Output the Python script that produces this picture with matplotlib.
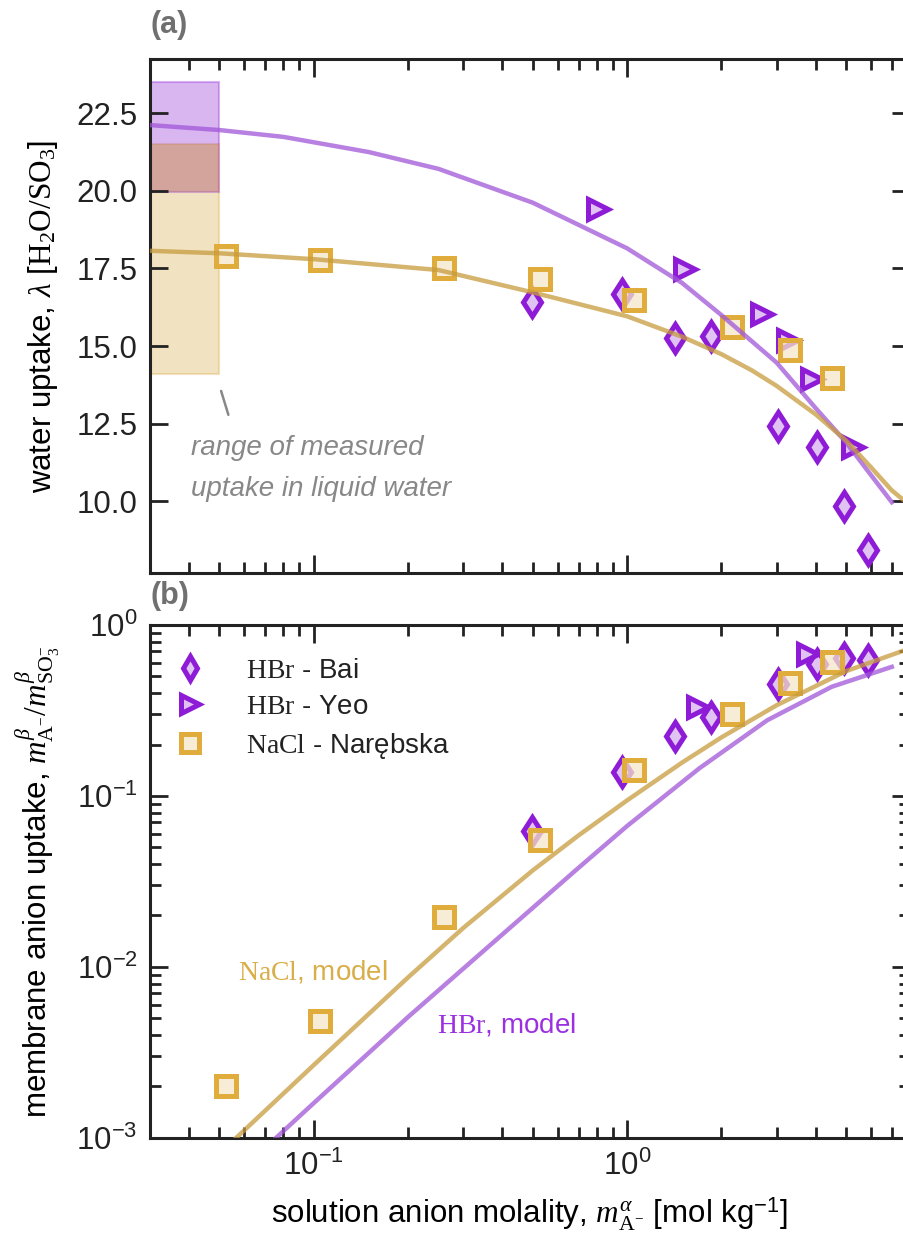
import numpy as np
import matplotlib
matplotlib.use("Agg")
import matplotlib.pyplot as plt
from matplotlib.patches import Rectangle
from matplotlib.ticker import LogLocator, FuncFormatter, NullFormatter, FixedLocator

plt.rcParams.update({
    'font.family': ['Liberation Sans', 'DejaVu Sans'],
    'mathtext.fontset': 'custom',
    'mathtext.rm': 'Liberation Serif',
    'mathtext.it': 'Liberation Serif:italic',
    'mathtext.bf': 'Liberation Serif:bold',
    'mathtext.sf': 'Liberation Sans',
})

# ---- (a) water uptake data ----
bai_m = [0.497, 0.962, 1.42, 1.85, 3.04, 4.04, 4.92, 5.87]
bai_lam = [16.42, 16.69, 15.27, 15.32, 12.41, 11.75, 9.86, 8.44]
yeo_m = [0.805, 1.535, 2.70, 3.27, 3.88, 5.26]
yeo_lam = [19.41, 17.47, 16.04, 15.21, 13.95, 11.75]
nar_m = [0.0523, 0.1045, 0.261, 0.526, 1.05, 2.16, 3.31, 4.51]
nar_lam = [17.90, 17.77, 17.51, 17.15, 16.48, 15.60, 14.86, 13.98]

hbr_model_m = [0.03, 0.05, 0.08, 0.15, 0.25, 0.5, 1.0, 1.5, 2.0, 3.0, 4.0, 5.0, 6.0, 7.0]
hbr_model_lam = [22.12, 21.96, 21.74, 21.25, 20.71, 19.62, 18.15, 17.03, 16.0, 14.47, 13.0, 11.9, 10.85, 9.97]
nacl_model_m = [0.03, 0.05, 0.1, 0.25, 0.5, 1.0, 1.5, 2.0, 2.5, 3.0, 4.0, 5.0, 6.0, 7.0, 8.0]
nacl_model_lam = [18.07, 17.99, 17.8, 17.45, 16.73, 15.96, 15.3, 14.74, 14.22, 13.72, 12.8, 11.96, 11.1, 10.35, 9.87]

# measured uptake in liquid water (ranges)
range_m = [0.03, 0.05]
range_hbr = [19.95, 23.5]
range_nacl = [14.1, 21.5]

# ---- (b) anion uptake data ----
bai_up = [0.0625, 0.138, 0.223, 0.290, 0.454, 0.594, 0.637, 0.622]
yeo_m2 = [1.68, 3.78]
yeo_up = [0.333, 0.68]
nar_up = [2.0e-3, 4.8e-3, 0.0196, 0.0555, 0.141, 0.303, 0.46, 0.61]

nacl_up_m = [0.0565, 0.1, 0.2, 0.3, 0.5, 0.7, 1.0, 1.5, 2.0, 3.0, 5.0, 8.0]
nacl_up = [1.0e-3, 2.67e-3, 8.69e-3, 0.0169, 0.0367, 0.0588, 0.0942, 0.157, 0.220, 0.339, 0.537, 0.730]
hbr_up_m = [0.0757, 0.1, 0.2, 0.4, 0.7, 1.0, 1.7, 2.8, 4.5, 7.0]
hbr_up = [1.0e-3, 1.6e-3, 5.1e-3, 0.0155, 0.038, 0.0667, 0.145, 0.277, 0.435, 0.569]

purple = '#8e1cd6'
purple_fill = (0.86, 0.72, 0.95, 0.85)
gold = '#e0ad3c'
gold_fill = (0.96, 0.90, 0.78, 0.75)
purple_line = '#a056d8'
gold_line = '#c79b3e'
spine_c = '#222222'
ms = 14.5
mew = 3.6
fs = 22.5

fig = plt.figure(figsize=(9.04, 12.43), dpi=100)
ax1 = fig.add_axes([0.1659, 0.5393, 0.8407, 0.4130])
ax2 = fig.add_axes([0.1659, 0.0845, 0.8407, 0.4127])

for ax in (ax1, ax2):
    ax.set_xscale('log')
    ax.set_xlim(0.03, 8)
    for s in ax.spines.values():
        s.set_linewidth(2.2)
        s.set_color(spine_c)
    ax.tick_params(which='both', direction='in', top=True, right=True,
                   width=2, color=spine_c, labelsize=fs, labelcolor='#222222', pad=9)
    ax.tick_params(which='major', length=13)
    ax.tick_params(which='minor', length=8)
    ax.xaxis.set_major_formatter(FuncFormatter(
        lambda v, p: r'$\mathsf{10^{%d}}$' % round(np.log10(v))))
    ax.xaxis.set_minor_formatter(NullFormatter())

# ---- panel (a) ----
ax1.add_patch(Rectangle((range_m[0], range_nacl[0]), range_m[1] - range_m[0],
                        range_nacl[1] - range_nacl[0], facecolor='#d6a840',
                        edgecolor='#d6a840', alpha=0.32, lw=1.5, zorder=1))
ax1.add_patch(Rectangle((range_m[0], range_hbr[0]), range_m[1] - range_m[0],
                        range_hbr[1] - range_hbr[0], facecolor=purple,
                        edgecolor=purple, alpha=0.32, lw=1.5, zorder=1))
ax1.add_patch(Rectangle((range_m[0], range_hbr[0]), range_m[1] - range_m[0],
                        range_nacl[1] - range_hbr[0], facecolor='#d6a840',
                        edgecolor='none', alpha=0.32, zorder=1.5))

ax1.plot(bai_m, bai_lam, 'd', ms=ms, mec=purple, mfc=purple_fill, mew=mew, zorder=3)
ax1.plot(yeo_m, yeo_lam, '>', ms=ms, mec=purple, mfc=purple_fill, mew=mew, zorder=3)
ax1.plot(nar_m, nar_lam, 's', ms=ms, mec=gold, mfc=gold_fill, mew=mew, zorder=4)
ax1.plot(hbr_model_m, hbr_model_lam, '-', color=purple_line, lw=3.2, alpha=0.75, zorder=5)
ax1.plot(nacl_model_m, nacl_model_lam, '-', color=gold_line, lw=3.2, alpha=0.75, zorder=5)

ax1.set_ylim(7.7, 24.24)
ax1.yaxis.set_major_locator(FixedLocator([10.0, 12.5, 15.0, 17.5, 20.0, 22.5]))
ax1.yaxis.set_major_formatter(FuncFormatter(lambda v, p: '%.1f' % v))
ax1.tick_params(labelbottom=False)
ax1.set_ylabel(r'water uptake, $\lambda$ [$\mathrm{H_2O/SO_3}$]', fontsize=fs, labelpad=12)

ax1.annotate('', xy=(0.0537, 12.7), xytext=(0.0503, 13.64),
             arrowprops=dict(arrowstyle='-', color='#888888', lw=1.8))
ax1.text(0.0405, 12.15, 'range of measured\nuptake in liquid water', fontsize=20,
         style='italic', color='#888888', va='top', ha='left', linespacing=1.75)

# ---- panel (b) ----
ax2.set_yscale('log')
ax2.set_ylim(1e-3, 1)
ax2.yaxis.set_major_locator(LogLocator(base=10, numticks=10))
ax2.yaxis.set_minor_locator(LogLocator(base=10, subs=np.arange(2, 10), numticks=10))
ax2.yaxis.set_major_formatter(FuncFormatter(
    lambda v, p: r'$\mathsf{10^{%d}}$' % round(np.log10(v))))
ax2.yaxis.set_minor_formatter(NullFormatter())

h1, = ax2.plot(bai_m, bai_up, 'd', ms=ms, mec=purple, mfc=purple_fill, mew=mew, zorder=3)
h2, = ax2.plot(yeo_m2, yeo_up, '>', ms=ms, mec=purple, mfc=purple_fill, mew=mew, zorder=3)
h3, = ax2.plot(nar_m, nar_up, 's', ms=ms, mec=gold, mfc=gold_fill, mew=mew, zorder=4)
ax2.plot(nacl_up_m, nacl_up, '-', color=gold_line, lw=3.2, alpha=0.75, zorder=5)
ax2.plot(hbr_up_m, hbr_up, '-', color=purple_line, lw=3.2, alpha=0.75, zorder=5)

ax2.text(0.0574, 9.4e-3, r'$\mathrm{NaCl}$, model', color='#d9ae48', fontsize=20,
         va='center', ha='left')
ax2.text(0.248, 4.6e-3, r'$\mathrm{HBr}$, model', color='#9b30e0', fontsize=20,
         va='center', ha='left')

ax2.legend([h1, h2, h3],
           [r'$\mathrm{HBr}$ - Bai', r'$\mathrm{HBr}$ - Yeo', r'$\mathrm{NaCl}$ - Narębska'],
           loc='upper left', bbox_to_anchor=(0.013, 0.958), borderaxespad=0,
           frameon=False, fontsize=20, markerscale=0.85, handlelength=1.4,
           handletextpad=1.3, labelspacing=0.38, labelcolor='#222222')

ax2.set_ylabel(r'membrane anion uptake, $m^{\beta}_{\mathrm{A}^{-}}/m^{\beta}_{\mathrm{SO}_3^{-}}$',
               fontsize=fs, labelpad=10)
ax2.set_xlabel(r'solution anion molality, $m^{\alpha}_{\mathrm{A}^{-}}$ [mol kg$^{\mathsf{-1}}$]',
               fontsize=fs, labelpad=10)

fig.text(0.166, 0.980, '(a)', fontsize=22, fontweight='bold', color='#707070',
         ha='left', va='center')
fig.text(0.166, 0.5205, '(b)', fontsize=22, fontweight='bold', color='#707070',
         ha='left', va='center')

fig.savefig('out.png', dpi=100)
